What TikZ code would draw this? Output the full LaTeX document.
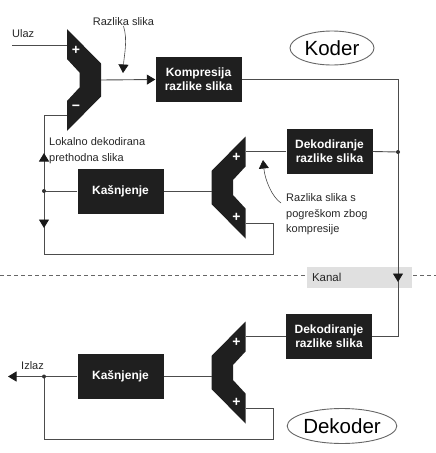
\documentclass[tikz,border=0pt]{standalone}
\usepackage{fontspec}
\setmainfont{Liberation Sans}
\usetikzlibrary{arrows.meta,shapes.geometric}
\tikzset{
	conn/.style={draw=black!70, line width=0.9pt},
	thinconn/.style={draw=black!70, line width=0.6pt},
	tip/.style={-{Triangle[length=8.5pt,width=10pt,fill=black!90,color=black!90]}},
	blk/.style={fill=black!88, text=white, font=\fontsize{12}{14}\selectfont\bfseries, minimum width=86pt, minimum height=45pt, align=center, inner sep=0pt},
	lbl/.style={font=\fontsize{11}{15.5}\selectfont, text=black!85, inner sep=0pt, align=left},
	sign/.style={text=white, font=\fontsize{14}{14}\selectfont\bfseries, inner sep=0pt},
	ell/.style={ellipse, draw=black!60, line width=0.9pt, inner sep=0pt, font=\fontsize{20.5}{20.5}\selectfont},
	adderR/.pic={
		\fill[black!88] (-17,-51) -- (17,-16.5) -- (17,16.5) -- (-17,51) -- (-17,21) -- (-4.5,7.5) -- (-4.5,-7.5) -- (-17,-21) -- cycle;
		\node[sign] (-p) at (-8,-30) {+};
		\node[sign] (-m) at (-8,28) {−};
		\coordinate (-in1) at (-17,-35);
		\coordinate (-in2) at (-17,35);
		\coordinate (-out) at (17,0);
	},
	adderL/.pic={
		\fill[black!88] (17,-51) -- (-17,-16.5) -- (-17,16.5) -- (17,51) -- (17,21) -- (4.5,7.5) -- (4.5,-7.5) -- (17,-21) -- cycle;
		\node[sign] (-p) at (8,-30) {+};
		\node[sign] (-q) at (8,30) {+};
		\coordinate (-in1) at (17,-36);
		\coordinate (-in2) at (17,35.5);
		\coordinate (-out) at (-17,0);
	}
}
\begin{document}
\begin{tikzpicture}[x=1pt,y=-1pt]
	\useasboundingbox (0,0) rectangle (436,453);
	% koder
	\pic (sub) at (84,80) {adderR};
	\pic (add1) at (228.5,187.5) {adderL};
	\node[blk] (komp) at (198.5,79.5) {Kompresija\\razlike slika};
	\node[blk] (dek1) at (329.5,151.5) {Dekodiranje\\razlike slika};
	\node[blk] (kas1) at (120.5,191) {Kašnjenje};
	\node[ell, minimum width=84pt, minimum height=34pt] (koder) at (332,48) {Koder};
	\node[lbl, anchor=west] (ulaz) at (12,34) {Ulaz};
	\node[lbl] (razl) at (123.5,22) {Razlika slika};
	\node[lbl, anchor=west] (lok) at (49,150.5) {Lokalno dekodirana\\prethodna slika};
	\node[lbl, anchor=west] (gres) at (286,214.5) {Razlika slika s\\pogreškom zbog\\kompresije};
	\coordinate (in) at (12,45);
	\coordinate (split) at (398,152);
	\coordinate (fb1) at (44,191);
	\coordinate (loop1) at (273,254);
	\coordinate (razltip) at (123,73);
	\coordinate (gtail) at (281,203);
	\coordinate (gtip) at (263,160);
	\draw[conn] (in) -- (sub-in1);
	\draw[conn, tip] (sub-out) -- (komp.west);
	\draw[thinconn, tip] (razl.south) .. controls (128,40) and (124,56) .. (razltip);
	\draw[conn] (komp.east) -| (split);
	\draw[conn] (split) -- (dek1.east);
	\draw[conn] (dek1.west) -- (add1-in1);
	\draw[conn] (kas1.east) -- (kas1.east -| add1-out);
	\draw[conn] (kas1.west) -- (fb1);
	\draw[conn] (fb1) |- (sub-in2);
	\draw[conn, tip] (fb1) -- ++(0,-38);
	\draw[conn] (fb1) |- (loop1) |- (add1-in2);
	\draw[conn, tip] (fb1) -- ++(0,37);
	\draw[thinconn, tip] (gtail) .. controls (272,197) and (265,180) .. (gtip);
	% kanal
	\draw[black!60, line width=0.8pt, dash pattern=on 4pt off 3pt] (0,275) -- (436,275);
	\node[fill=black!12, text=black!85, font=\fontsize{11.5}{12}\selectfont, text width=95pt, inner xsep=5pt, minimum height=21pt, align=left] (kanal) at (359.5,277.5) {Kanal};
	% dekoder
	\pic (add2) at (228.5,372.5) {adderL};
	\node[blk] (dek2) at (329,336.5) {Dekodiranje\\razlike slika};
	\node[blk] (kas2) at (120.5,376.5) {Kašnjenje};
	\node[ell, minimum width=97pt, minimum height=35pt] (dekoder) at (342,426) {Dekoder};
	\node[lbl, anchor=west] (izlaz) at (21,366) {Izlaz};
	\coordinate (fb2) at (44,376.5);
	\coordinate (izl) at (8,376.5);
	\coordinate (loop2) at (273,439);
	\draw[conn] (split) |- (dek2.east);
	\draw[conn, tip] (split) -- ++(0,130);
	\draw[conn] (dek2.west) -- (add2-in1);
	\draw[conn] (kas2.east) -- (kas2.east -| add2-out);
	\draw[conn] (kas2.west) -- (fb2);
	\draw[conn, tip] (fb2) -- (izl);
	\draw[conn] (fb2) |- (loop2) |- (add2-in2);
	\fill[black!80] (split) circle (2pt);
	\fill[black!80] (fb1) circle (2pt);
	\fill[black!80] (fb2) circle (2pt);
\end{tikzpicture}
\end{document}
